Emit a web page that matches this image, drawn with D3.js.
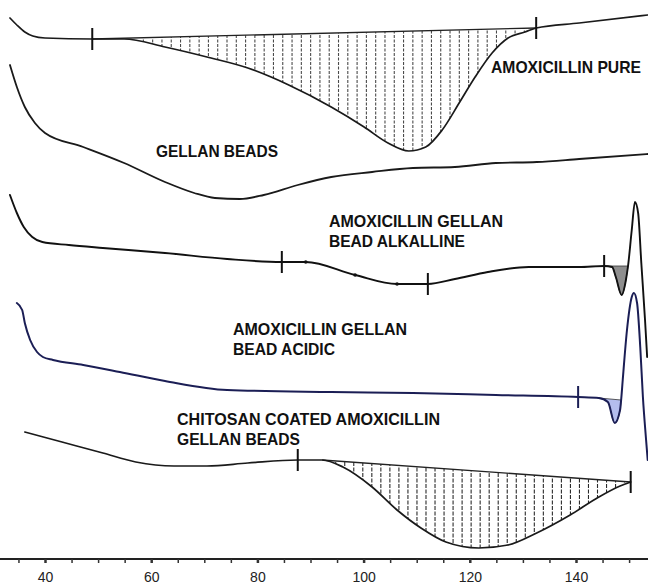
<!DOCTYPE html>
<html><head><meta charset="utf-8">
<script src="https://cdn.jsdelivr.net/npm/d3@7"></script>
<style>html,body{margin:0;padding:0;background:#fff}svg{display:block}</style>
</head><body><svg id="c" width="648" height="584"></svg>
<script>
// ---- data: temperature (°C), heat flow (arbitrary offset units) ----
const axisTickLabels = [40, 60, 80, 100, 120, 140];
const minorTicks = d3.range(35, 155, 5);

const amoxPure = [[33.4,54.2],[34.7,53.5],[36.2,52.8],[37.7,52.4],[40.0,52.2],[48.9,52.1],[54.9,52.1],[62.6,51.3],[70.5,50.3],[78.2,49.2],[85.9,47.5],[93.9,45.3],[100.1,43.3],[104.6,41.7],[108.5,40.9],[111.7,41.3],[114.8,43.0],[118.0,45.7],[121.0,48.3],[124.2,50.7],[127.2,52.2],[130.4,52.8],[132.5,53.2],[140.6,53.7],[153.5,54.5]];
const gellanBeads = [[33.4,49.5],[34.7,47.3],[36.2,45.3],[38.1,43.7],[40.0,42.7],[47.2,41.3],[54.9,39.7],[62.6,37.8],[68.1,36.7],[72.0,36.2],[76.7,36.1],[81.2,36.5],[87.6,37.5],[93.9,38.3],[101.6,38.8],[109.3,39.2],[117.2,39.3],[124.9,39.7],[132.6,39.8],[140.6,40.1],[153.5,40.6]];
const beadAlkaline = [[33.4,36.5],[34.7,34.7],[36.0,33.3],[37.6,32.3],[39.5,31.8],[44.5,31.5],[50.9,31.2],[62.6,30.7],[74.3,30.1],[84.6,29.8],[89.1,29.8],[98.4,28.5],[106.3,27.6],[112.1,27.6],[117.2,28.1],[123.4,28.8],[131.1,29.3],[140.6,29.3],[145.3,29.4],[146.8,29.3],[147.5,28.3],[148.6,26.5],[149.4,28.0],[149.8,29.4],[150.5,33.0],[151.1,35.8],[151.7,34.7],[152.3,29.7],[153.0,24.0],[153.4,20.3]];
const beadAcidic = [[34.7,25.7],[35.7,25.0],[36.2,23.7],[37.2,22.0],[38.5,20.8],[39.6,20.3],[41.5,20.0],[47.2,19.5],[54.1,18.8],[62.6,17.9],[74.3,17.0],[93.9,16.8],[109.3,16.7],[124.9,16.5],[140.4,16.3],[144.3,16.2],[146.0,15.8],[147.3,13.7],[148.3,15.0],[148.5,16.0],[148.8,18.0],[149.6,23.0],[150.5,26.3],[150.9,26.7],[151.5,25.7],[152.1,21.3],[152.6,16.3],[153.2,12.0],[153.5,10.0]];
const chitosanBeads = [[36.2,12.8],[43.2,11.8],[50.9,10.7],[57.1,9.8],[64.3,9.4],[70.5,9.4],[78.2,9.7],[87.6,10.0],[92.2,10.0],[96.1,9.3],[101.6,7.3],[106.3,5.0],[110.8,3.2],[115.5,1.8],[121.7,1.2],[127.2,1.5],[132.6,2.7],[138.9,4.5],[144.3,6.3],[148.3,7.4],[150.3,7.8]];

// integration limits (°C) and marker positions
const pureMarks = [[48.9,52.1],[132.5,53.2]];
const alkalineMarks = [[84.6,29.8],[112.1,27.6],[145.3,29.4]];
const acidicMarks = [[140.4,16.3]];
const chitosanMarks = [[87.6,10.0],[150.3,7.8]];
const alkalineDots = [[89.1,29.8],[98.4,28.5],[106.3,27.6]];

const pureLimits = [48.9, 132.5];
const chitosanLimits = [92.2, 150.3];
const alkalineDipLimits = [145.3, 149.8];
const acidicDipLimits = [144.3, 148.5];

const labelTexts = [
  ["AMOXICILLIN PURE"],
  ["GELLAN BEADS"],
  ["AMOXICILLIN GELLAN", "BEAD ALKALLINE"],
  ["AMOXICILLIN GELLAN", "BEAD ACIDIC"],
  ["CHITOSAN COATED AMOXICILLIN", "GELLAN BEADS"]
];

// ---- layout ----
const W = 648, H = 584;
const labelLayout = [
  {x:491, y:73, w:[150]},
  {x:156, y:157, w:[122]},
  {x:329, y:227, w:[174,136]},
  {x:233, y:335, w:[174,102]},
  {x:177, y:425, w:[263,123]}
];

const svg = d3.select("#c");
svg.append("rect").attr("width", W).attr("height", H).attr("fill", "#fff");

const x = d3.scaleLinear().domain([40, 140]).range([45, 576]);
const y = d3.scaleLinear().domain([0, 56]).range([560, 0]);

const line = d3.line().x(d => x(d[0])).y(d => y(d[1])).curve(d3.curveMonotoneX);
const defs = svg.append("defs");

function hatch(data, lim, id, stroke, dash, step) {
  const sub = data.filter(d => d[0] >= lim[0] - 1e-9 && d[0] <= lim[1] + 1e-9);
  defs.append("clipPath").attr("id", id).append("path").attr("d", line(sub) + "Z");
  const g = svg.append("g").attr("clip-path", `url(#${id})`);
  const vals = sub.map(d => d[1]);
  const ys = [y(d3.max(vals) + 2), y(d3.min(vals) - 2)];
  g.selectAll("line").data(d3.range(lim[0] + step / 2, lim[1], step)).join("line")
    .attr("x1", t => x(t)).attr("x2", t => x(t))
    .attr("y1", ys[0]).attr("y2", ys[1])
    .attr("stroke", stroke).attr("stroke-width", 1.1)
    .attr("stroke-dasharray", dash);
  svg.append("line")
    .attr("x1", x(sub[0][0])).attr("y1", y(sub[0][1]))
    .attr("x2", x(sub[sub.length - 1][0])).attr("y2", y(sub[sub.length - 1][1]))
    .attr("stroke", "#222").attr("stroke-width", 1.3);
}
function fillDip(data, lim, fill) {
  const sub = data.filter(d => d[0] >= lim[0] - 1e-9 && d[0] <= lim[1] + 1e-9);
  svg.append("path").attr("d", line(sub) + "Z").attr("fill", fill).attr("stroke", "#333").attr("stroke-width", 0.8);
}

hatch(amoxPure, pureLimits, "hp", "#4a4a4a", "3,1.5", 1.75);
hatch(chitosanBeads, chitosanLimits, "hc", "#2a2a2a", "4,1.5", 1.7);
fillDip(beadAlkaline, alkalineDipLimits, "#8e8e8e");
fillDip(beadAcidic, acidicDipLimits, "#b4bdee");

const series = [
  {data: amoxPure, color: "#1a1a1a", w: 1.7},
  {data: gellanBeads, color: "#1a1a1a", w: 1.8},
  {data: beadAlkaline, color: "#111", w: 1.9},
  {data: beadAcidic, color: "#1b1e55", w: 2.0},
  {data: chitosanBeads, color: "#1a1a1a", w: 1.7}
];
svg.selectAll("path.curve").data(series).join("path").attr("class", "curve")
  .attr("d", s => line(s.data)).attr("fill", "none")
  .attr("stroke", s => s.color).attr("stroke-width", s => s.w)
  .attr("stroke-linejoin", "round").attr("stroke-linecap", "round");

const marks = [...pureMarks.map(m => [m, "#111"]), ...alkalineMarks.map(m => [m, "#111"]),
  ...acidicMarks.map(m => [m, "#1b1e55"]), ...chitosanMarks.map(m => [m, "#111"])];
svg.selectAll("line.mark").data(marks).join("line").attr("class", "mark")
  .attr("x1", d => x(d[0][0])).attr("x2", d => x(d[0][0]))
  .attr("y1", d => y(d[0][1]) - 11).attr("y2", d => y(d[0][1]) + 11)
  .attr("stroke", d => d[1]).attr("stroke-width", 2);
svg.selectAll("circle.dot").data(alkalineDots).join("circle").attr("class", "dot")
  .attr("cx", d => x(d[0])).attr("cy", d => y(d[1])).attr("r", 1.8).attr("fill", "#111");

// labels
labelTexts.forEach((lines, i) => {
  const L = labelLayout[i];
  lines.forEach((t, j) => {
    svg.append("text").text(t)
      .attr("x", L.x).attr("y", L.y + j * 20)
      .attr("textLength", L.w[j]).attr("lengthAdjust", "spacingAndGlyphs")
      .attr("font-family", "'Liberation Sans Narrow','Arial Narrow','Liberation Sans',sans-serif")
      .attr("font-weight", "bold").attr("font-size", 16.5).attr("fill", "#111");
  });
});

// x axis
const axisY = 559;
svg.append("line").attr("x1", x(31.5)).attr("x2", W).attr("y1", axisY).attr("y2", axisY)
  .attr("stroke", "#222").attr("stroke-width", 2);
const axis = d3.axisBottom(x).tickValues(minorTicks)
  .tickFormat(t => axisTickLabels.includes(t) ? String(t) : "")
  .tickSize(4).tickPadding(9);
const gA = svg.append("g").attr("transform", `translate(0,${axisY})`).call(axis);
gA.select(".domain").remove();
gA.selectAll(".tick line").attr("stroke", "#333").attr("stroke-width", d => axisTickLabels.includes(d) ? 2.5 : 1.5);
gA.selectAll(".tick text").attr("font-family", "'Liberation Sans',Arial,sans-serif")
  .attr("font-size", 14).attr("fill", "#222");
</script></body></html>
